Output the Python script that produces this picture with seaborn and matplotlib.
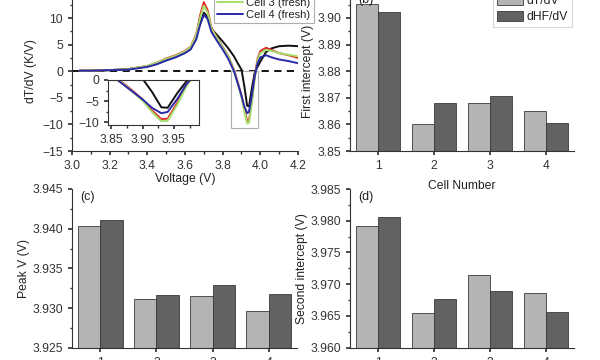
import numpy as np
import pandas as pd
import matplotlib
matplotlib.use("Agg")
import matplotlib.pyplot as plt
from matplotlib.ticker import MultipleLocator, FormatStrFormatter
from matplotlib.patches import Rectangle
import seaborn as sns

# --- data ---
voltage = [3.04, 3.1, 3.2, 3.3, 3.4, 3.45, 3.5, 3.55, 3.6, 3.63, 3.66, 3.68,
           3.7, 3.72, 3.74, 3.77, 3.8, 3.83, 3.86, 3.88, 3.9, 3.915, 3.93,
           3.94, 3.955, 3.97, 3.985, 4.0, 4.03, 4.06, 4.1, 4.15, 4.2]
cell1 = [0.1, 0.1, 0.2, 0.4, 0.9, 1.4, 2.1, 2.7, 3.5, 4.2, 6.4, 9.0,
         11.0, 10.2, 8.0, 6.8, 5.6, 4.3, 2.8, 1.5, 0.3, -2.8, -6.5,
         -6.6, -3.2, -0.3, 0.8, 1.8, 3.6, 4.3, 4.7, 4.8, 4.7]
cell2 = [0.1, 0.1, 0.2, 0.4, 1.0, 1.6, 2.4, 3.0, 3.8, 4.6, 7.0, 10.5,
         13.0, 11.5, 8.2, 6.3, 4.6, 2.8, 0.3, -2.0, -4.6, -7.2, -9.3,
         -9.2, -5.5, -1.0, 2.3, 3.8, 4.4, 4.0, 3.4, 3.0, 2.5]
cell3 = [0.1, 0.1, 0.2, 0.4, 1.0, 1.6, 2.3, 2.9, 3.7, 4.5, 6.8, 10.0,
         12.3, 11.0, 8.0, 6.2, 4.5, 2.7, 0.2, -2.2, -4.9, -7.6, -9.8,
         -9.7, -6.0, -1.5, 2.0, 3.4, 4.0, 3.8, 3.4, 3.1, 2.8]
cell4 = [0.1, 0.1, 0.2, 0.3, 0.8, 1.3, 2.0, 2.6, 3.4, 4.1, 6.0, 8.7,
         10.6, 9.8, 7.4, 5.7, 4.1, 2.3, 0.0, -2.3, -4.6, -6.6, -7.9,
         -7.6, -4.6, -1.0, 1.5, 2.6, 3.0, 2.6, 2.2, 1.9, 1.5]
cell_labels = ["Cell 1 (fresh)", "Cell 2 (fresh)", "Cell 3 (fresh)", "Cell 4 (fresh)"]
line_colors = ["#111111", "#e0302a", "#a6e06c", "#2a2aa8"]

cells = ["1", "2", "3", "4"]
methods = ["dT/dV", "dHF/dV"]
first_dt = [3.9053, 3.8600, 3.8679, 3.8650]
first_dhf = [3.9023, 3.8679, 3.8708, 3.8607]
peak_dt = [3.9404, 3.9312, 3.9315, 3.9296]
peak_dhf = [3.9411, 3.9316, 3.9329, 3.9318]
second_dt = [3.9791, 3.9654, 3.9714, 3.9686]
second_dhf = [3.9806, 3.9676, 3.9690, 3.9656]
bar_colors = ["#b4b4b4", "#626262"]

sns.set_theme(style="ticks")
plt.rcParams["font.family"] = ["Liberation Sans", "DejaVu Sans"]
plt.rcParams.update({
    "font.size": 8.7,
    "axes.labelsize": 8.7,
    "xtick.labelsize": 8.7,
    "ytick.labelsize": 8.7,
    "axes.edgecolor": "#333333",
    "axes.linewidth": 0.8,
    "xtick.direction": "out",
    "ytick.direction": "out",
    "xtick.major.size": 3,
    "ytick.major.size": 3,
    "xtick.minor.size": 1.8,
    "ytick.minor.size": 1.8,
    "xtick.color": "#333333",
    "ytick.color": "#333333",
    "text.color": "#222222",
    "axes.labelcolor": "#222222",
})

fig = plt.figure(figsize=(6, 3.6), dpi=100)
W, H = 600, 360


def add_ax(x0, x1, ytop, ybot):
    return fig.add_axes([x0 / W, 1 - ybot / H, (x1 - x0) / W, (ybot - ytop) / H])


ax_a = add_ax(72, 298, -8.6, 151)
ax_b = add_ax(350, 574, -8.6, 151)
ax_c = add_ax(72, 297, 189, 347.7)
ax_d = add_ax(350, 574, 189, 347.7)
ax_in = add_ax(108, 199, 80, 125)

# --- (a) dT/dV curves ---
lines = pd.DataFrame({
    "V": voltage * 4,
    "dTdV": cell1 + cell2 + cell3 + cell4,
    "Cell": np.repeat(cell_labels, len(voltage)),
})
for ax in (ax_a, ax_in):
    sns.lineplot(data=lines, x="V", y="dTdV", hue="Cell", palette=line_colors,
                 estimator=None, sort=False, linewidth=1.4, ax=ax,
                 legend=(ax is ax_a))
ax_a.axhline(0, color="black", linestyle=(0, (4, 3)), linewidth=1.3, zorder=0)
ax_a.set_xlim(3.0, 4.2)
ax_a.set_ylim(-15, 15)
ax_a.xaxis.set_major_locator(MultipleLocator(0.2))
ax_a.xaxis.set_minor_locator(MultipleLocator(0.1))
ax_a.yaxis.set_major_locator(MultipleLocator(5))
ax_a.yaxis.set_minor_locator(MultipleLocator(2.5))
ax_a.xaxis.set_major_formatter(FormatStrFormatter("%.1f"))
ax_a.set_xlabel("Voltage (V)", labelpad=1)
ax_a.set_ylabel("dT/dV (K/V)", labelpad=4)
ax_a.add_patch(Rectangle((3.845, -10.7), 0.145, 10.7, fill=False,
                         edgecolor="#b0b0b0", linewidth=0.8))
ax_a.text(0.035, 0.965, "(a) Discharge", transform=ax_a.transAxes, fontsize=9)
leg = ax_a.legend(loc="lower right", bbox_to_anchor=(1.07, 0.80), fontsize=8,
                  handlelength=2.3, labelspacing=0.2, borderpad=0.3,
                  borderaxespad=0, handletextpad=0.3, frameon=True,
                  fancybox=False, edgecolor="#999999", title=None)
leg.get_frame().set_linewidth(0.8)
sns.despine(ax=ax_a)

ax_in.set_xlim(3.845, 3.99)
ax_in.set_ylim(-10.7, 0)
ax_in.xaxis.set_major_locator(MultipleLocator(0.05))
ax_in.xaxis.set_minor_locator(MultipleLocator(0.025))
ax_in.yaxis.set_major_locator(MultipleLocator(5))
ax_in.yaxis.set_minor_locator(MultipleLocator(2.5))
ax_in.xaxis.set_major_formatter(FormatStrFormatter("%.2f"))
ax_in.set_xlabel("")
ax_in.set_ylabel("")
ax_in.patch.set_facecolor("white")
for s in ax_in.spines.values():
    s.set_linewidth(0.8)
    s.set_edgecolor("#333333")


# --- bar panels ---
def bar_panel(ax, dt, dhf, ylim, step, ylabel, tag, show_legend=False):
    df = pd.DataFrame({
        "Cell": cells * 2,
        "Method": np.repeat(methods, len(cells)),
        "Value": dt + dhf,
    })
    sns.barplot(data=df, x="Cell", y="Value", hue="Method", palette=bar_colors,
                edgecolor="#3a3a3a", linewidth=0.6, width=0.8, ax=ax,
                legend=show_legend)
    ax.set_ylim(*ylim)
    ax.set_xlim(-0.5, 3.5)
    ax.yaxis.set_major_locator(MultipleLocator(step))
    ax.yaxis.set_minor_locator(MultipleLocator(step / 2))
    ax.set_ylabel(ylabel, labelpad=2)
    ax.set_xlabel("")
    ax.text(0.035, 0.93, tag, transform=ax.transAxes, fontsize=9)
    sns.despine(ax=ax)


bar_panel(ax_b, first_dt, first_dhf, (3.85, 3.91), 0.01, "First intercept (V)", "(b)",
          show_legend=True)
ax_b.yaxis.set_major_formatter(FormatStrFormatter("%.2f"))
ax_b.set_xlabel("Cell Number", labelpad=6)
legb = ax_b.legend(loc="upper right", bbox_to_anchor=(0.99, 1.0), fontsize=8.7,
                   handlelength=2.2, handleheight=0.9, labelspacing=0.3,
                   borderpad=0.3, borderaxespad=0, handletextpad=0.3,
                   fancybox=False, edgecolor="#cccccc", title=None)
legb.get_frame().set_linewidth(0.8)

bar_panel(ax_c, peak_dt, peak_dhf, (3.925, 3.945), 0.005, "Peak V (V)", "(c)")
ax_c.yaxis.set_major_formatter(FormatStrFormatter("%.3f"))
bar_panel(ax_d, second_dt, second_dhf, (3.960, 3.985), 0.005, "Second intercept (V)", "(d)")
ax_d.yaxis.set_major_formatter(FormatStrFormatter("%.3f"))

fig.savefig("out.png", dpi=100, facecolor="white")
